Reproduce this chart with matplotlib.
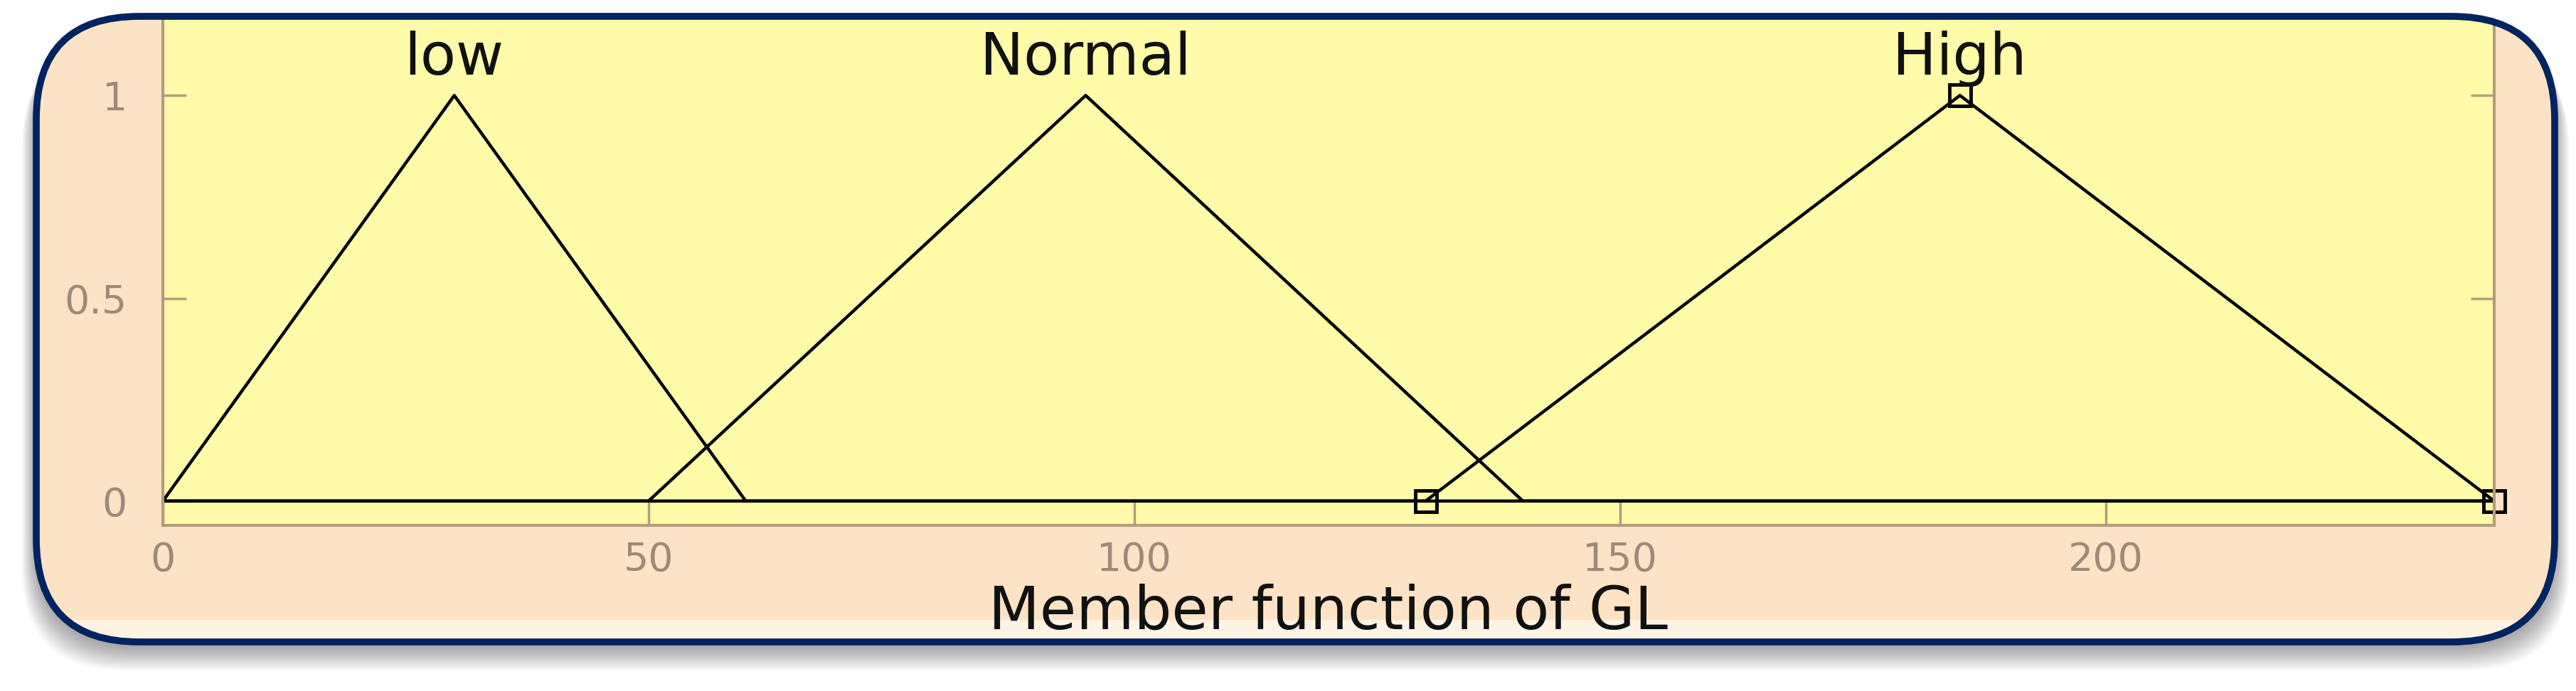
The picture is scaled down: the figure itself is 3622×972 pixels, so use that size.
import numpy as np
import matplotlib
matplotlib.use("Agg")
import matplotlib.pyplot as plt
from matplotlib.patches import FancyBboxPatch
from matplotlib.lines import Line2D

# membership functions of GL (vertices of each triangle, over 0..240)
low_x = [0, 30, 60, 240]
low_y = [0, 1, 0, 0]
normal_x = [0, 50, 95, 140, 240]
normal_y = [0, 0, 1, 0, 0]
high_x = [0, 130, 185, 240]
high_y = [0, 0, 1, 0]

# selected mf: square markers on its parameters
high_params_x = [130, 185, 240]
high_params_y = [0, 1, 0]

mf_names = ["low", "Normal", "High"]
mf_peaks = [30, 95, 185]

x_ticks = [0, 50, 100, 150, 200]
y_ticks = [0, 0.5, 1]
y_ticklabels = ["0", "0.5", "1"]

W, H = 3622, 972
fig = plt.figure(figsize=(W / 100, H / 100), dpi=100)
fig.patch.set_facecolor("white")

# frame geometry in inches
fx0, fy0, fw, fh = 0.51, 0.69, 35.41, 8.80
rad = 1.45
style = f"round,pad=0,rounding_size={rad}"

# soft drop shadow, mostly below the panel
for i in range(24):
    d = 0.015 * i
    sh = FancyBboxPatch((fx0 - d * 0.6, fy0 - 0.06 - d), fw + 1.2 * d, fh,
                        boxstyle=style, transform=fig.dpi_scale_trans,
                        facecolor="black", edgecolor="none", alpha=0.014,
                        zorder=-3)
    fig.patches.append(sh)

body = FancyBboxPatch((fx0, fy0), fw, fh, boxstyle=style,
                      transform=fig.dpi_scale_trans, facecolor="#fde3c5",
                      edgecolor="none", zorder=-2)
fig.patches.append(body)

# light band at the bottom of the panel and the thin line in it
band = FancyBboxPatch((fx0, fy0 + 0.03), fw, 0.28,
                      boxstyle="round,pad=0,rounding_size=0.05",
                      transform=fig.dpi_scale_trans, facecolor="#fff4e4",
                      edgecolor="none", zorder=-1)
band.set_clip_path(body)
fig.patches.append(band)
base_line = Line2D([fx0, fx0 + fw], [0.89, 0.89],
                   transform=fig.dpi_scale_trans, color="#5a5048",
                   lw=2.0, zorder=-1)
base_line.set_clip_path(body)
fig.lines.append(base_line)

ax = fig.add_axes([229 / W, 1 - 739 / H, (3507 - 229) / W, (739 - 23) / H])
ax.set_facecolor("#fffba8")

line_kw = dict(color="black", lw=3.2)
ax.plot(low_x, low_y, **line_kw)
ax.plot(normal_x, normal_y, **line_kw)
ax.plot(high_x, high_y, **line_kw)
ax.plot(high_params_x, high_params_y, ls="none", marker="s", ms=22,
        mfc="none", mec="black", mew=3.5, clip_on=False)

for name, px in zip(mf_names, mf_peaks):
    ax.text(px, 1.09, name, ha="center", va="center", fontsize=59, color="#111111")

ax.set_xlim(0, 240)
ax.set_ylim(-0.06, 1.195)
ax.set_xticks(x_ticks)
ax.set_yticks(y_ticks)
ax.set_yticklabels(y_ticklabels)

axis_col = "#b49c82"
for s in ["left", "right", "bottom"]:
    ax.spines[s].set_color(axis_col)
    ax.spines[s].set_linewidth(3)
    ax.spines[s].set_clip_path(body)
ax.spines["top"].set_visible(False)
ax.patch.set_clip_path(body)
ax.tick_params(direction="in", length=24, width=2.5, color=axis_col,
               labelcolor="#9e8a78", labelsize=40, right=True, top=False)
ax.tick_params(axis="x", pad=16)
ax.tick_params(axis="y", pad=36)

ax.set_xlabel("Member function of GL", fontsize=60, color="#111111", labelpad=4)

# frame border over everything
border = FancyBboxPatch((fx0, fy0), fw, fh, boxstyle=style,
                        transform=fig.dpi_scale_trans, facecolor="none",
                        edgecolor="#00245f", lw=7, zorder=10)
fig.patches.append(border)

fig.savefig("out.png", dpi=100, facecolor=fig.get_facecolor())
